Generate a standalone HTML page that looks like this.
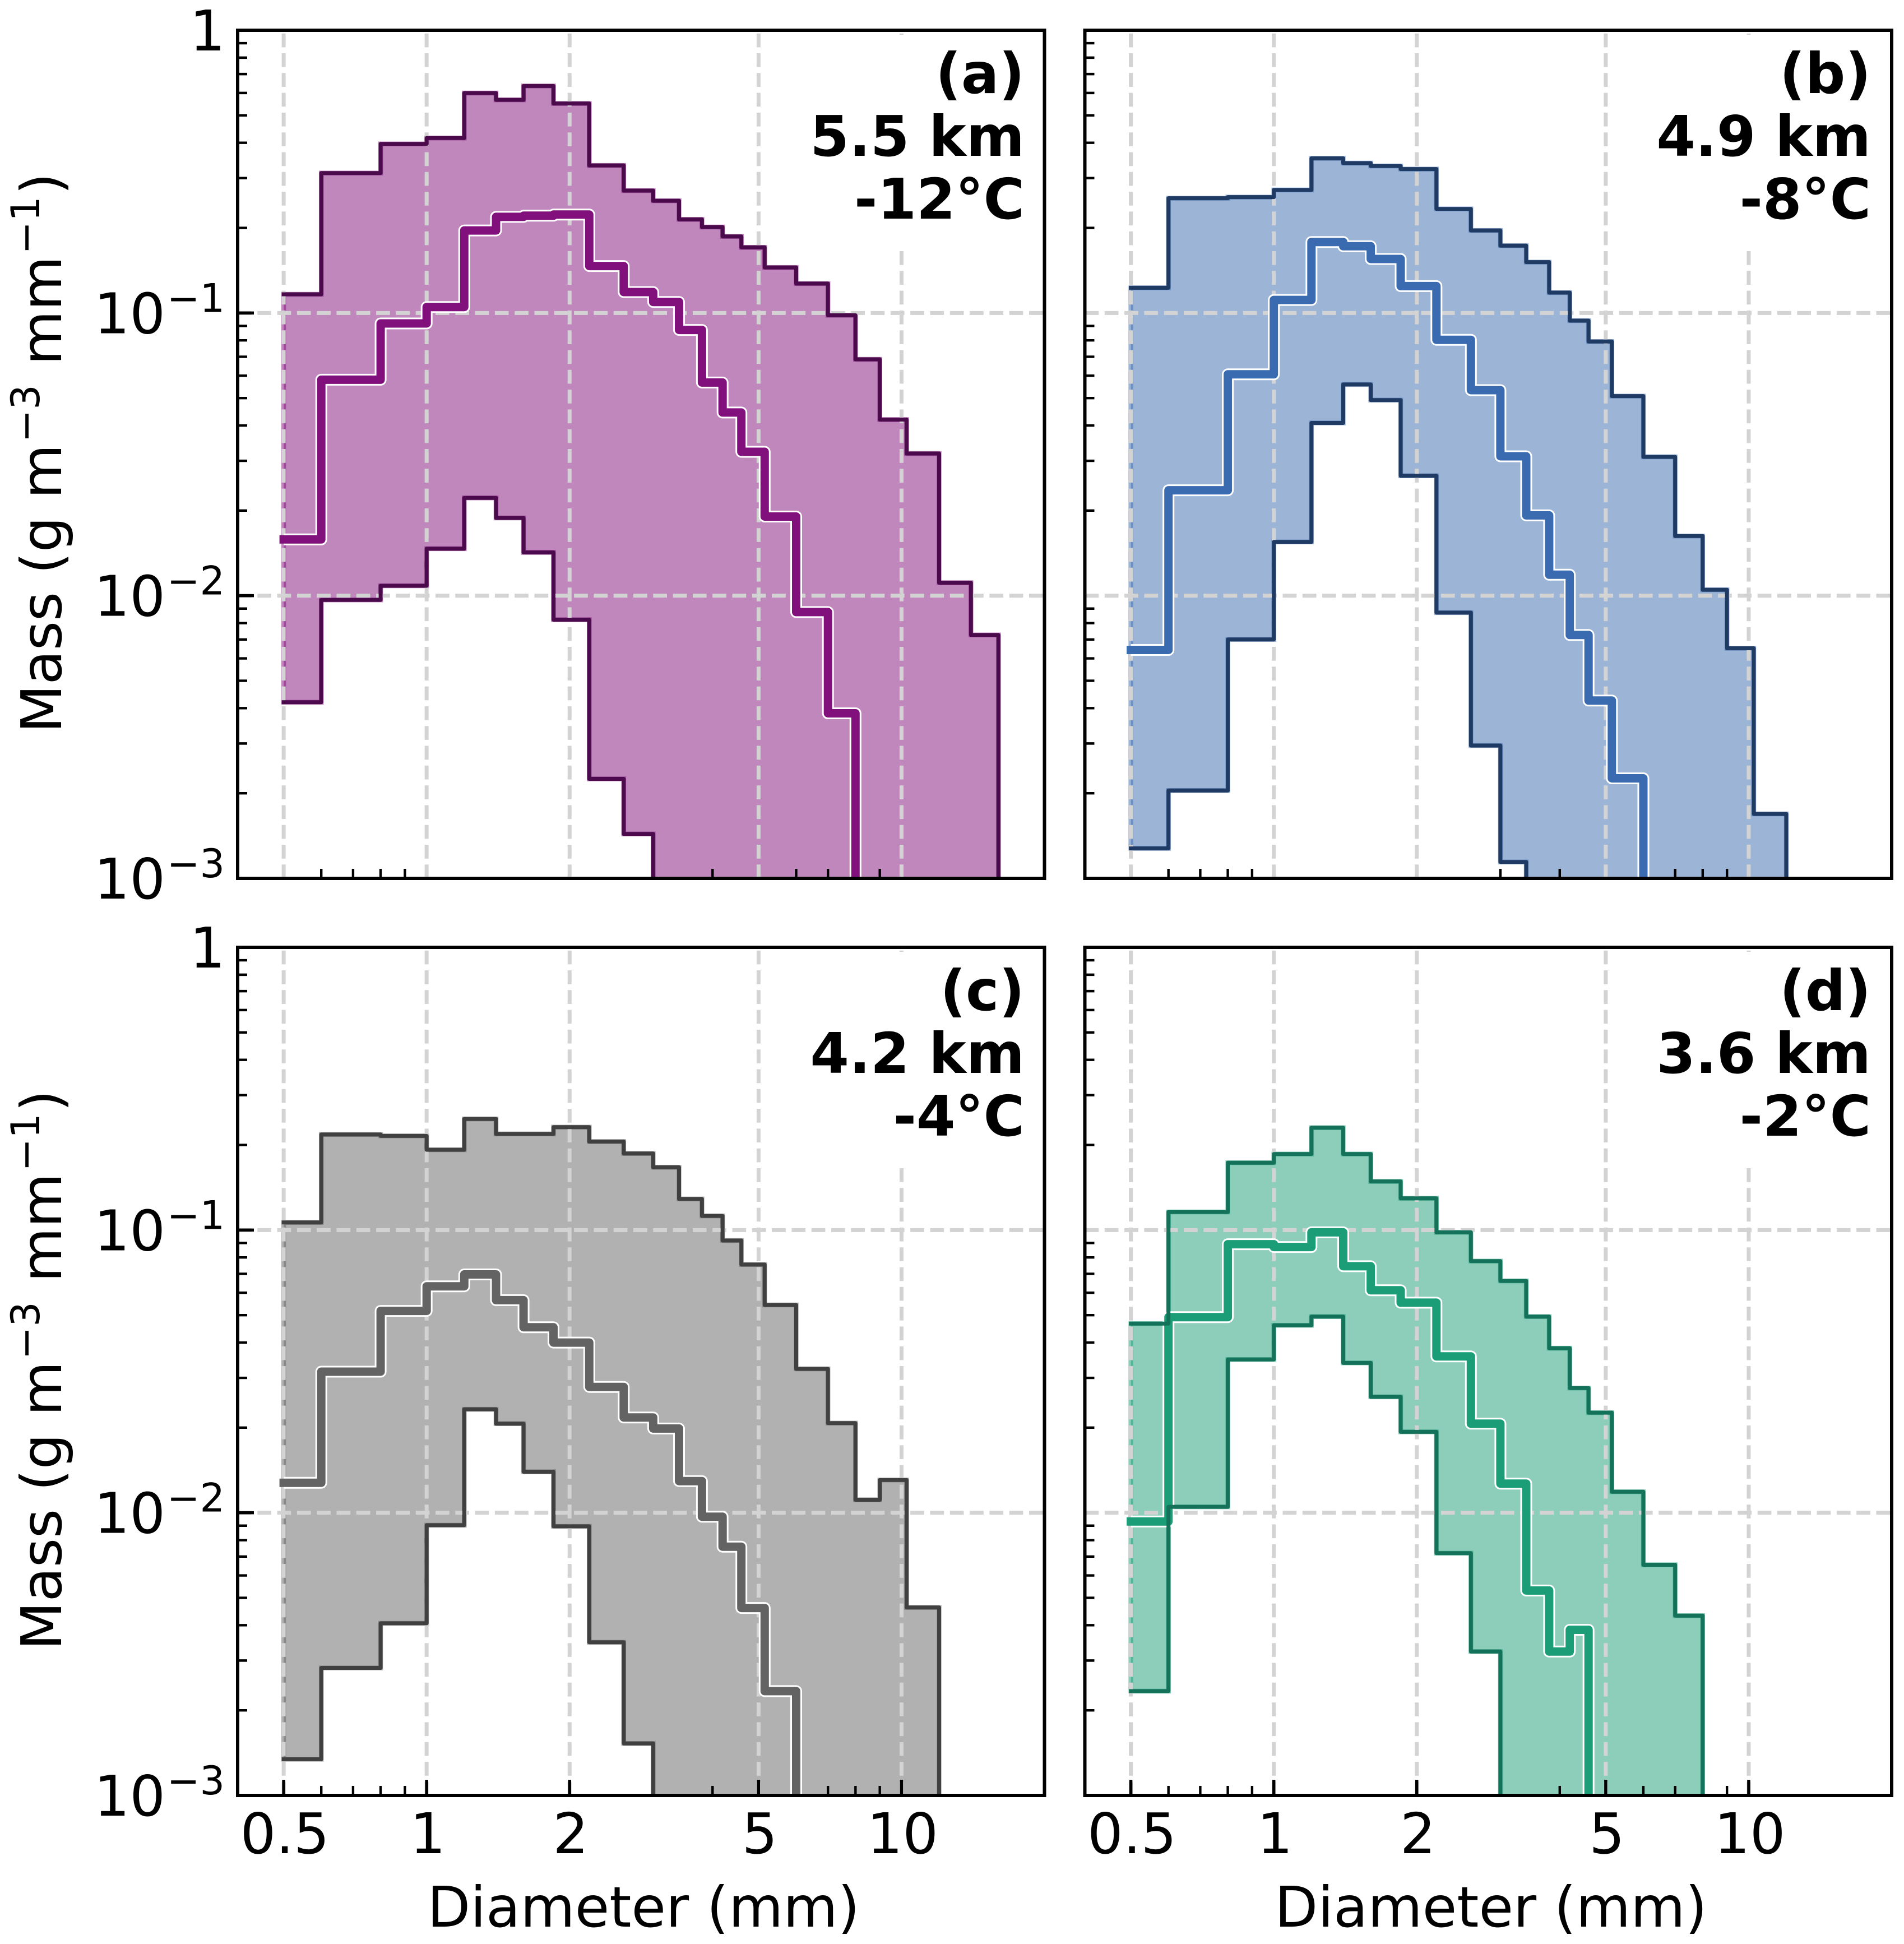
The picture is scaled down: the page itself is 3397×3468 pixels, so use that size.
<!DOCTYPE html>
<html lang="en">
<head>
<meta charset="utf-8">
<title>Mass size distributions</title>
<style>
html,body{margin:0;padding:0;background:#fff;overflow:hidden;width:3397px;height:3468px}
svg{display:block}
text{font-family:"DejaVu Sans","Liberation Sans",sans-serif;fill:#000}
.note{font-weight:bold;font-size:100px;text-anchor:end}
.title{font-size:100px;white-space:pre}
</style>
</head>
<body>
<svg id="figure" xmlns="http://www.w3.org/2000/svg" width="3397" height="3468" viewBox="0 0 3397 3468">
<rect x="0" y="0" width="3397" height="3468" fill="#fff"/>
<g id="overlay">
  <text class="title" text-anchor="middle" transform="translate(109,808) rotate(-90)">Mass (g m<tspan font-size="70" dx="3" dy="-39">−3</tspan><tspan dx="3" dy="39"> mm</tspan><tspan font-size="70" dx="3" dy="-39">−1</tspan><tspan dx="3" dy="39">)</tspan></text>
  <text class="title" text-anchor="middle" transform="translate(109,2444) rotate(-90)">Mass (g m<tspan font-size="70" dx="3" dy="-39">−3</tspan><tspan dx="3" dy="39"> mm</tspan><tspan font-size="70" dx="3" dy="-39">−1</tspan><tspan dx="3" dy="39">)</tspan></text>
  <text class="title" text-anchor="middle" x="1148" y="3437">Diameter (mm)</text>
  <text class="title" text-anchor="middle" x="2660" y="3437">Diameter (mm)</text>

  <g>
    <rect x="1430" y="62" width="410" height="385" fill="#fff"/>
    <text class="note" x="1828" y="166">(a)</text>
    <text class="note" x="1828" y="278">5.5 km</text>
    <text class="note" x="1828" y="390">-12°C</text>
  </g>
  <g>
    <rect x="2941" y="62" width="410" height="385" fill="#fff"/>
    <text class="note" x="3338" y="166">(b)</text>
    <text class="note" x="3338" y="278">4.9 km</text>
    <text class="note" x="3338" y="390">-8°C</text>
  </g>
  <g>
    <rect x="1430" y="1698" width="410" height="385" fill="#fff"/>
    <text class="note" x="1828" y="1802">(c)</text>
    <text class="note" x="1828" y="1914">4.2 km</text>
    <text class="note" x="1828" y="2026">-4°C</text>
  </g>
  <g>
    <rect x="2941" y="1698" width="410" height="385" fill="#fff"/>
    <text class="note" x="3338" y="1802">(d)</text>
    <text class="note" x="3338" y="1914">3.6 km</text>
    <text class="note" x="3338" y="2026">-2°C</text>
  </g>
</g>
</svg>
<script>
// Diameter bin edges (mm)
const binEdges = [0.5,0.6,0.8,1,1.2,1.4,1.6,1.85,2.2,2.6,3,3.4,3.8,4.2,4.6,5.15,6,7,8,9,10.25,12,14,16,18];

// All series: log10 of mass (g m-3 mm-1) per bin; -4 marks the drop below the axis
const upperA = [-0.934,-0.505,-0.402,-0.381,-0.222,-0.246,-0.197,-0.259,-0.478,-0.567,-0.603,-0.669,-0.696,-0.729,-0.768,-0.839,-0.896,-1.008,-1.164,-1.377,-1.497,-1.954,-2.139,-4];
const medianA = [-1.801,-1.236,-1.037,-0.979,-0.708,-0.660,-0.656,-0.652,-0.834,-0.926,-0.961,-1.060,-1.246,-1.352,-1.491,-1.720,-2.058,-2.416,-4];
const lowerA = [-2.377,-2.015,-1.965,-1.834,-1.654,-1.725,-1.847,-2.085,-2.648,-2.843,-4];

const upperB = [-0.911,-0.594,-0.590,-0.565,-0.453,-0.470,-0.480,-0.491,-0.632,-0.708,-0.762,-0.820,-0.928,-1.027,-1.101,-1.294,-1.509,-1.789,-1.979,-2.186,-2.772,-4];
const medianB = [-2.192,-1.627,-1.217,-0.954,-0.749,-0.764,-0.809,-0.905,-1.095,-1.273,-1.507,-1.716,-1.926,-2.139,-2.371,-2.646,-4];
const lowerB = [-2.894,-2.689,-2.155,-1.810,-1.389,-1.253,-1.308,-1.576,-2.060,-2.530,-2.942,-4];

const upperC = [-0.973,-0.662,-0.667,-0.716,-0.607,-0.660,-0.660,-0.636,-0.687,-0.729,-0.778,-0.890,-0.950,-1.037,-1.122,-1.265,-1.491,-1.683,-1.954,-1.884,-2.335,-4];
const medianC = [-1.894,-1.501,-1.286,-1.199,-1.157,-1.248,-1.344,-1.398,-1.555,-1.663,-1.702,-1.888,-2.014,-2.120,-2.337,-2.631,-4];
const lowerC = [-2.872,-2.549,-2.391,-2.044,-1.634,-1.685,-1.855,-2.048,-2.458,-2.816,-4];

const upperD = [-1.331,-0.936,-0.762,-0.731,-0.638,-0.731,-0.828,-0.888,-1.008,-1.110,-1.180,-1.306,-1.418,-1.559,-1.646,-1.926,-2.184,-2.364,-4];
const medianD = [-2.031,-1.308,-1.050,-1.060,-1.008,-1.128,-1.213,-1.257,-1.447,-1.685,-1.897,-2.275,-2.491,-2.414,-4];
const lowerD = [-2.631,-1.979,-1.458,-1.337,-1.306,-1.470,-1.590,-1.714,-2.143,-2.491,-4];

// Axis ticks
const majorXTicks = [0.5,1,2,5,10];
const xTickLabels = ["0.5","1","2","5","10"];
const minorXTicks = [0.6,0.7,0.8,0.9,3,4,6,7,8,9];
const majorYTicks = [0,-1,-2,-3];
const yTickBases = ["1","10","10","10"];
const yTickExponents = ["","−1","−2","−3"];
const gridY = [-1,-2];
const minorMultipliers = [2,3,4,5,6,7,8,9];
const minorDecades = [-3,-2,-1];

const NS = 'http://www.w3.org/2000/svg';
const svg = document.getElementById('figure');
const overlay = document.getElementById('overlay');

const AX_W = 1439.5, AX_H = 1513, DEC = AX_H / 3;
const XMIN = Math.log10(0.4), XMAX = Math.log10(20);
const FLOOR = -3.1;

function mk(parent, tag, attrs) {
  const el = document.createElementNS(NS, tag);
  for (const k in attrs) el.setAttribute(k, attrs[k]);
  parent.appendChild(el);
  return el;
}

function drawPanel(id, left, top, showXMajor, showYMajor, medianColor, darkColor, upper, median, lower) {
  const x = d => left + (Math.log10(d) - XMIN) / (XMAX - XMIN) * AX_W;
  const y = l => top - Math.max(l, FLOOR) * DEC;
  const bottom = top + AX_H, right = left + AX_W;

  const steps = vals => {
    const pts = [];
    vals.forEach((v, i) => {
      pts.push([x(binEdges[i]), y(v)]);
      pts.push([x(binEdges[i + 1]), y(v)]);
    });
    return pts;
  };
  const toPath = pts => 'M' + pts.map(p => p[0].toFixed(1) + ' ' + p[1].toFixed(1)).join('L');

  const panel = document.createElementNS(NS, 'g');
  
  
  svg.insertBefore(panel, overlay);

  const clip = mk(panel, 'clipPath', {id: 'clip-' + id});
  mk(clip, 'rect', {x: left, y: top, width: AX_W, height: AX_H});

  const data = mk(panel, 'g', {'clip-path': 'url(#clip-' + id + ')'});
  
  

  // Shaded range between lower and upper envelopes
  const upPts = steps(upper);
  const lowPts = steps(lower);
  lowPts.push([upPts[upPts.length - 1][0], y(FLOOR)]);
  const band = mk(data, 'path', {
    d: toPath(upPts.concat(lowPts.slice().reverse())) + 'Z',
    fill: medianColor, 'fill-opacity': 0.5,
    stroke: medianColor, 'stroke-opacity': 0.5, 'stroke-width': 8.5
  });
  
  

  // Grid
  majorXTicks.forEach(d => {
    const g = mk(data, 'line', {x1: x(d), x2: x(d), y1: bottom, y2: top, stroke: '#d3d3d3', 'stroke-width': 7, 'stroke-dasharray': '24.7 10.6'});
    
    
  });
  gridY.forEach(l => {
    const g = mk(data, 'line', {x1: left, x2: right, y1: y(l), y2: y(l), stroke: '#d3d3d3', 'stroke-width': 7, 'stroke-dasharray': '24.7 10.6'});
    
    
  });

  // Ticks
  minorXTicks.forEach(d => {
    const t = mk(data, 'line', {x1: x(d), x2: x(d), y1: bottom, y2: bottom - 17, stroke: '#000', 'stroke-width': 4.4});
    
    
  });
  if (showXMajor) majorXTicks.forEach((d, i) => {
    const t = mk(data, 'line', {x1: x(d), x2: x(d), y1: bottom, y2: bottom - 28, stroke: '#000', 'stroke-width': 5.5});
    
    
    const lab = mk(panel, 'text', {x: x(d) + 2, y: bottom + 103, 'font-size': 100, 'text-anchor': 'middle'});
    lab.textContent = xTickLabels[i];
    
    
  });
  minorDecades.forEach(dec => minorMultipliers.forEach(m => {
    const l = dec + Math.log10(m);
    const t = mk(data, 'line', {x1: left, x2: left + 17, y1: y(l), y2: y(l), stroke: '#000', 'stroke-width': 4.4});
    
    
  }));
  if (showYMajor) majorYTicks.forEach((l, i) => {
    const t = mk(data, 'line', {x1: left, x2: left + 29, y1: y(l), y2: y(l), stroke: '#000', 'stroke-width': 5.5});
    
    
    const exp = yTickExponents[i];
    const base = mk(panel, 'text', {x: exp ? left - 129 : left - 22, y: y(l) + 36, 'font-size': 100, 'text-anchor': 'end'});
    base.textContent = yTickBases[i];
    
    
    if (exp) {
      const sup = mk(panel, 'text', {x: left - 23, y: y(l) - 2, 'font-size': 70, 'text-anchor': 'end'});
      sup.textContent = exp;
      
      
    }
  });

  // Median with white halo
  const medPath = toPath(steps(median));
  const halo = mk(data, 'path', {d: medPath, fill: 'none', stroke: '#fff', 'stroke-width': 21, 'stroke-linejoin': 'round', 'stroke-linecap': 'butt'});
  
  
  const med = mk(data, 'path', {d: medPath, fill: 'none', stroke: medianColor, 'stroke-width': 15, 'stroke-linejoin': 'round', 'stroke-linecap': 'square'});
  
  

  // Envelopes
  const up = mk(data, 'path', {d: toPath(upPts), fill: 'none', stroke: darkColor, 'stroke-width': 7, 'stroke-linejoin': 'round', 'stroke-linecap': 'square'});
  
  
  const lowLine = mk(data, 'path', {d: toPath(steps(lower)), fill: 'none', stroke: darkColor, 'stroke-width': 7, 'stroke-linejoin': 'round', 'stroke-linecap': 'square'});
  
  

  // Spines
  const frame = mk(panel, 'rect', {x: left, y: top, width: AX_W, height: AX_H, fill: 'none', stroke: '#000', 'stroke-width': 6});
  
  
}

drawPanel('a', 424, 54, false, true, '#810f7c', '#4a0a4c', upperA, medianA, lowerA);
drawPanel('b', 1935.5, 54, false, false, '#3a6bb0', '#1f3a63', upperB, medianB, lowerB);
drawPanel('c', 424, 1690, true, true, '#636363', '#404040', upperC, medianC, lowerC);
drawPanel('d', 1935.5, 1690, true, false, '#1b9e77', '#137259', upperD, medianD, lowerD);
</script>
</body>
</html>
